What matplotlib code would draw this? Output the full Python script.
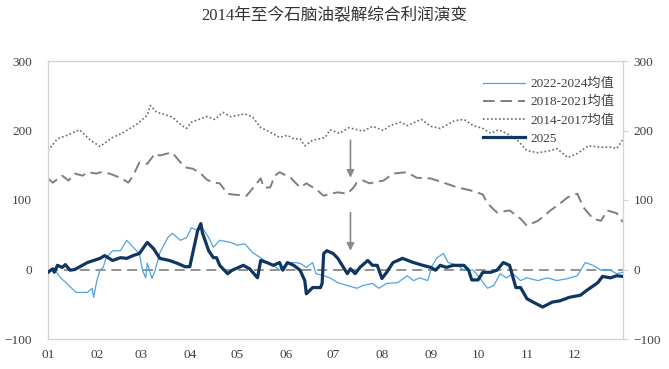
import matplotlib
matplotlib.use("Agg")
import matplotlib.pyplot as plt

plt.rcParams['font.family'] = ['Liberation Serif', 'Noto Sans CJK SC', 'DejaVu Sans']

title = "2014年至今石脑油裂解综合利润演变"
month_labels = ["01", "02", "03", "04", "05", "06", "07", "08", "09", "10", "11", "12"]
month_start_doy = [0, 31, 59, 90, 120, 151, 181, 212, 243, 273, 304, 334]

# 2014-2017 average (dotted)
d1417 = [0,6,12,20,27,33,41,47,57,63,65,69,73,79,85,88,91,97,101,106,111,116,125,130,135,139,147,152,156,160,163,168,176,179,185,191,200,206,213,217,224,228,237,243,249,258,264,270,276,281,286,291,298,304,311,319,323,330,336,343,351,357,361,365]
v1417 = [171,188,193,201,186,177,190,196,210,222,236,226,224,219,207,203,212,217,220,216,226,220,224,219,204,200,190,193,188,188,178,186,190,201,196,204,199,206,200,207,212,207,216,206,203,214,216,207,203,196,201,196,186,171,168,171,174,161,167,178,176,176,174,187]

# 2018-2021 average (dashed)
d1821 = [0,3,9,13,17,22,25,31,33,39,46,51,54,58,63,68,71,76,79,83,87,92,97,101,105,109,114,117,126,130,135,137,141,144,147,154,160,164,171,175,179,184,190,194,196,200,204,213,219,228,234,243,251,260,268,276,279,285,293,300,304,311,319,325,330,336,340,346,351,355,361,365]
v1821 = [131,125,135,128,138,135,140,138,140,138,132,125,135,154,152,167,164,167,168,157,147,145,138,129,125,124,109,108,106,117,131,118,118,135,140,132,118,124,114,106,109,111,109,118,125,128,124,128,138,140,132,131,125,118,114,108,95,82,85,73,63,70,85,95,104,109,89,73,70,85,81,68]

# 2022-2024 average (thin light blue)
d2224 = [0,4,8,12,15,18,25,28,29,31,33,35,37,41,46,50,54,58,60,62,63,66,68,71,76,79,84,88,91,95,98,102,105,109,116,120,125,130,135,139,143,147,152,156,160,164,168,170,175,179,184,190,196,200,206,210,215,222,228,232,236,241,244,247,251,254,260,264,270,274,279,283,287,291,295,300,304,311,317,323,330,336,341,346,351,357,361,365]
v2224 = [-4,1,-12,-20,-27,-33,-33,-27,-40,-16,-1,3,17,27,27,42,32,23,-1,-12,9,-13,-1,24,46,52,42,46,60,56,60,46,32,42,39,35,37,24,17,10,6,-1,10,10,9,3,10,-6,-9,-12,-19,-23,-27,-23,-20,-27,-20,-19,-9,-16,-12,-16,6,17,23,10,6,-1,-1,-12,-27,-23,-6,-12,-6,-16,-12,-16,-12,-16,-13,-9,10,6,-1,-1,-6,-4]

# 2025 (thick navy)
d2025 = [0,3,4,6,9,11,14,17,25,33,36,41,46,50,54,58,63,67,71,77,82,87,90,95,97,98,102,105,107,109,114,117,124,128,133,135,139,143,147,149,152,156,160,163,164,168,173,174,175,177,181,184,190,192,195,198,203,206,209,212,215,219,225,232,238,243,246,249,253,257,260,264,267,269,273,276,281,285,289,293,297,300,304,308,314,320,325,331,338,342,349,352,357,361,365]
v2025 = [-4,1,-4,6,3,7,-1,0,10,16,20,13,17,16,20,23,39,30,16,13,9,4,4,56,66,53,27,17,17,6,-6,-1,6,1,-12,13,10,6,10,-1,10,6,-1,-16,-35,-26,-26,-20,23,27,23,16,-6,1,-6,3,13,6,6,-13,-4,10,16,10,6,3,-1,6,3,6,6,6,-1,-15,-15,-4,-4,-1,10,6,-26,-26,-42,-47,-54,-47,-45,-40,-37,-30,-19,-10,-12,-9,-10]

labels = ["2022-2024均值", "2018-2021均值", "2014-2017均值", "2025"]
arrow_doy = 192
arrow_spans = [(186, 132), (82, 27)]

fig = plt.figure(figsize=(6.69, 3.69), dpi=100)
ax = fig.add_axes([48/669, 1-339/369, (623-48)/669, (339-61)/369])

c_blue = "#4ea3e6"
c_navy = "#0f3562"
c_dash = "#7f7f7f"
c_dot = "#6a6a6a"

ax.axhline(0, color="#808080", lw=1.2, dashes=(6, 3.5), zorder=1)
l1, = ax.plot(d2224, v2224, color=c_blue, lw=0.9, zorder=3)
l2, = ax.plot(d1821, v1821, color=c_dash, lw=1.4, dashes=(6, 3), zorder=2)
l3, = ax.plot(d1417, v1417, color=c_dot, lw=1.2, dashes=(1, 1.4), zorder=2)
l4, = ax.plot(d2025, v2025, color=c_navy, lw=2.3, zorder=4)

for y0, y1 in arrow_spans:
    ax.annotate("", xy=(arrow_doy, y1), xytext=(arrow_doy, y0),
                arrowprops=dict(arrowstyle="-|>", color="#8a8a8a", lw=1.2,
                                mutation_scale=11, shrinkA=0, shrinkB=0))

ax.set_xlim(0, 365)
ax.set_ylim(-100, 300)
ax.set_yticks([-100, 0, 100, 200, 300])
ax.set_xticks(month_start_doy)
ax.set_xticklabels(month_labels)
ax.tick_params(axis="y", length=0, pad=11.5, labelsize=9.5, colors="#404040")
ax.tick_params(axis="x", length=0, pad=7, labelsize=9.5, colors="#404040")
for s in ax.spines.values():
    s.set_color("#d4d4d4")
    s.set_linewidth(1.0)

ax2 = ax.twinx()
ax2.set_ylim(-100, 300)
ax2.set_yticks([-100, 0, 100, 200, 300])
ax2.tick_params(axis="y", length=3.5, width=0.8, color="#d4d4d4", pad=4,
                labelsize=9.5, labelcolor="#404040")
for s in ax2.spines.values():
    s.set_visible(False)

leg = fig.legend([l1, l2, l3, l4], labels, loc="upper left",
                 bbox_to_anchor=(483/669, 1-78/369), frameon=False,
                 fontsize=9.5, borderpad=0, borderaxespad=0,
                 handlelength=3.2, handletextpad=0.4, labelspacing=0.45)
for t in leg.get_texts():
    t.set_color("#404040")

fig.text(0.5, 1-16/369, title, ha="center", va="center", fontsize=12,
         color="#333333")

fig.savefig("out.png", dpi=100)
